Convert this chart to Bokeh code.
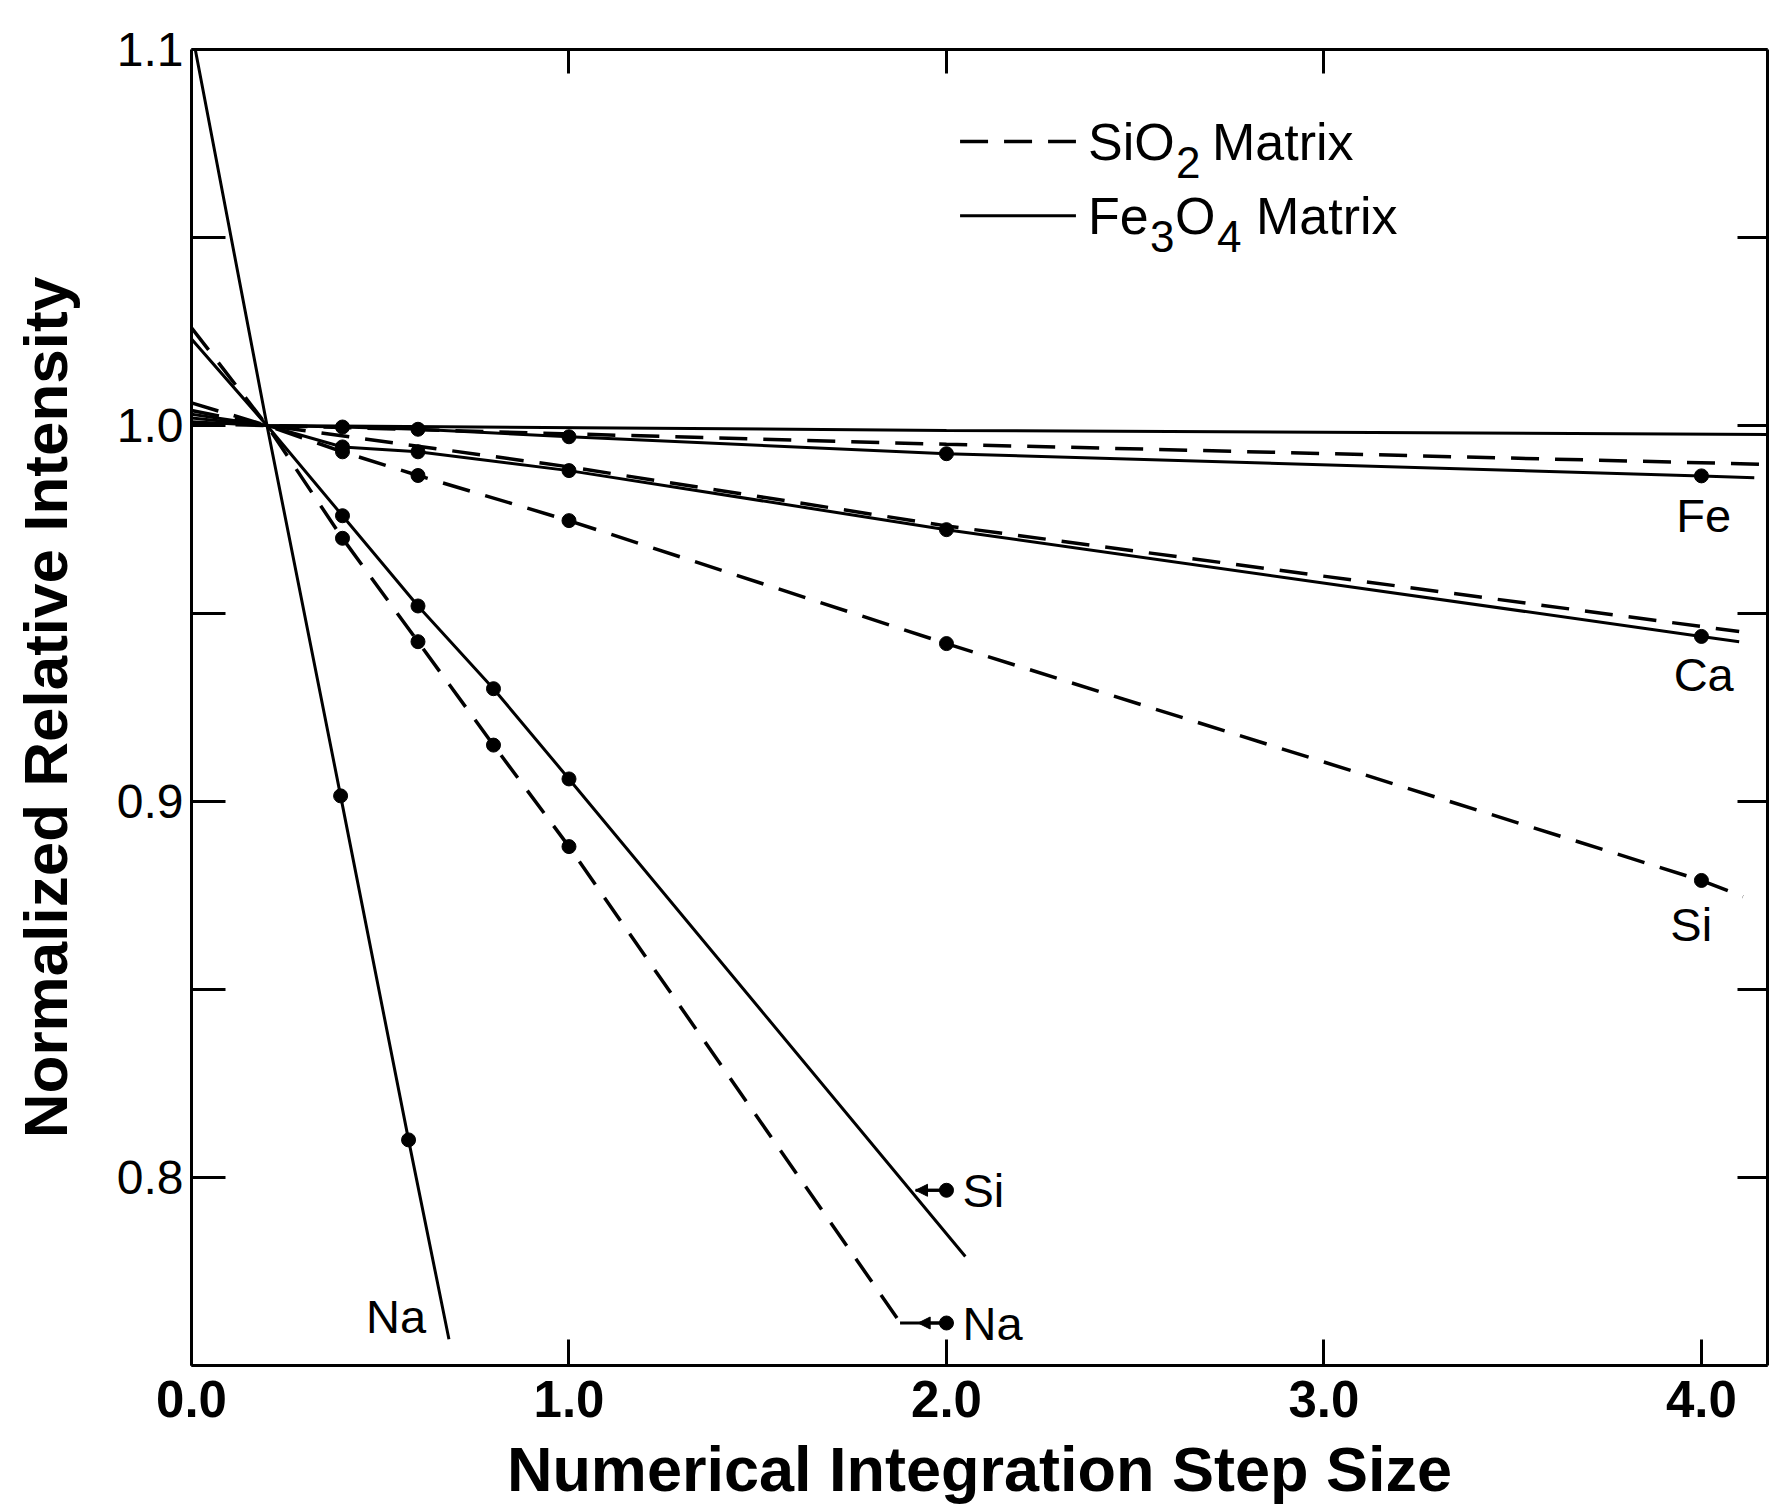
from bokeh.plotting import figure
from bokeh.models import (Range1d, LinearAxis, FixedTicker, PrintfTickFormatter,
                          CustomJSTickFormatter, Label, Arrow, NormalHead)
from bokeh.embed import file_html
from bokeh.resources import INLINE

# ---------------- data ----------------
# Fe3O4 matrix (solid lines)
fe3o4_na_x = [0.01, 0.2, 0.395, 0.575, 0.682]
fe3o4_na_y = [1.100, 1.000, 0.9015, 0.810, 0.757]
fe3o4_na_mark = [0, 0, 1, 1, 0]

fe3o4_si_x = [0.0, 0.2, 0.4, 0.6, 0.8, 1.0, 2.05]
fe3o4_si_y = [1.023, 1.000, 0.976, 0.952, 0.930, 0.906, 0.779]
fe3o4_si_mark = [0, 0, 1, 1, 1, 1, 0]

fe3o4_ca_x = [0.0, 0.2, 0.4, 0.6, 1.0, 2.0, 4.0, 4.10]
fe3o4_ca_y = [1.003, 1.000, 0.9943, 0.993, 0.988, 0.9723, 0.9439, 0.9425]
fe3o4_ca_mark = [0, 0, 1, 1, 1, 1, 1, 0]

fe3o4_fe_x = [0.0, 0.2, 0.4, 0.6, 1.0, 2.0, 4.0, 4.14]
fe3o4_fe_y = [1.002, 1.000, 0.9996, 0.999, 0.997, 0.9925, 0.9866, 0.9861]
fe3o4_fe_mark = [0, 0, 1, 1, 1, 1, 1, 0]

fe3o4_flat_x = [0.0, 0.2, 2.0, 4.175]
fe3o4_flat_y = [1.001, 1.000, 0.9987, 0.9976]

# SiO2 matrix (dashed lines)
sio2_na_x = [0.0, 0.2, 0.4, 0.6, 0.8, 1.0, 1.877]
sio2_na_y = [1.026, 1.000, 0.970, 0.9425, 0.915, 0.888, 0.7615]
sio2_na_mark = [0, 0, 1, 1, 1, 1, 0]

sio2_si_x = [0.0, 0.2, 0.4, 0.6, 1.0, 2.0, 4.0, 4.11]
sio2_si_y = [1.006, 1.000, 0.993, 0.9867, 0.9747, 0.942, 0.879, 0.8747]
sio2_si_mark = [0, 0, 1, 1, 1, 1, 1, 0]

sio2_ca_x = [0.0, 0.2, 1.0, 2.0, 4.10]
sio2_ca_y = [1.004, 1.000, 0.989, 0.9733, 0.9452]

sio2_fe_x = [0.0, 0.2, 2.0, 4.16]
sio2_fe_y = [1.0005, 1.000, 0.995, 0.9897]

# pointer notes at step size 2.0
note_x = [2.0, 2.0]
note_y = [0.7966, 0.7613]
note_tip_x = [1.918, 1.925]
note_line_x = [1.918, 1.877]
note_text = ["Si", "Na"]

# element labels
elem_text = ["Fe", "Ca", "Si", "Na"]
elem_x = [4.006, 4.006, 3.973, 0.542]
elem_y = [0.9760, 0.9338, 0.8672, 0.7630]

# axes
x_ticks = [0.0, 1.0, 2.0, 3.0, 4.0]
top_ticks = [1.0, 2.0, 3.0]
y_major = [0.8, 0.9, 1.0, 1.1]
y_minor = [0.75, 0.85, 0.95, 1.05]
x_title = "Numerical Integration Step Size"
y_title = "Normalized Relative Intensity"

FONT = "Liberation Sans"
DASH = "28 16"

p = figure(width=1770, height=1506,
           x_range=Range1d(0.0, 4.175), y_range=Range1d(0.75, 1.1),
           output_backend="svg", toolbar_location=None,
           min_border_left=191, min_border_right=3,
           min_border_top=49, min_border_bottom=140)
p.grid.visible = False
p.outline_line_color = None
p.background_fill_color = "white"
p.border_fill_color = "white"


def style_axis(ax, tick_len):
    ax.axis_line_width = 3
    ax.axis_line_color = "black"
    ax.major_tick_in = tick_len
    ax.major_tick_out = 0
    ax.minor_tick_in = tick_len
    ax.minor_tick_out = 0
    ax.major_tick_line_width = 3
    ax.minor_tick_line_width = 3
    ax.major_tick_line_color = "black"
    ax.minor_tick_line_color = "black"


xa = p.xaxis[0]
xa.ticker = FixedTicker(ticks=x_ticks)
xa.formatter = PrintfTickFormatter(format="%.1f")
style_axis(xa, 26)
xa.minor_tick_line_color = None
xa.major_label_text_font = FONT
xa.major_label_text_font_size = "51px"
xa.major_label_text_font_style = "bold"
xa.major_label_text_color = "black"
xa.major_label_standoff = 15
xa.axis_label = x_title
xa.axis_label_text_font = FONT
xa.axis_label_text_font_size = "63px"
xa.axis_label_text_font_style = "bold"
xa.axis_label_text_color = "black"
xa.axis_label_standoff = 14

ya = p.yaxis[0]
ya.ticker = FixedTicker(ticks=y_major, minor_ticks=y_minor)
ya.formatter = PrintfTickFormatter(format="%.1f")
style_axis(ya, 34)
ya.major_label_text_font = FONT
ya.major_label_text_font_size = "48px"
ya.major_label_text_color = "black"
ya.major_label_standoff = 8
ya.axis_label = y_title
ya.axis_label_text_font = FONT
ya.axis_label_text_font_size = "62px"
ya.axis_label_text_font_style = "bold"
ya.axis_label_text_color = "black"
ya.axis_label_standoff = 34

blank = CustomJSTickFormatter(code="return '';")

top = LinearAxis(ticker=FixedTicker(ticks=top_ticks), formatter=blank)
style_axis(top, 24)
top.minor_tick_line_color = None
top.major_label_standoff = 0
p.add_layout(top, "above")

right = LinearAxis(ticker=FixedTicker(ticks=y_major, minor_ticks=y_minor), formatter=blank)
style_axis(right, 30)
right.major_label_standoff = 0
p.add_layout(right, "right")


def draw(xs, ys, marks=None, dashed=False):
    if dashed:
        p.line(xs, ys, line_color="black", line_width=3.5, line_dash=DASH)
    else:
        p.line(xs, ys, line_color="black", line_width=3)
    if marks:
        mx = [x for x, m in zip(xs, marks) if m]
        my = [y for y, m in zip(ys, marks) if m]
        p.scatter(mx, my, size=14, color="black")


draw(fe3o4_flat_x, fe3o4_flat_y)
draw(fe3o4_fe_x, fe3o4_fe_y, fe3o4_fe_mark)
draw(fe3o4_ca_x, fe3o4_ca_y, fe3o4_ca_mark)
draw(fe3o4_si_x, fe3o4_si_y, fe3o4_si_mark)
draw(fe3o4_na_x, fe3o4_na_y, fe3o4_na_mark)
draw(sio2_fe_x, sio2_fe_y, dashed=True)
draw(sio2_ca_x, sio2_ca_y, dashed=True)
draw(sio2_si_x, sio2_si_y, sio2_si_mark, dashed=True)
draw(sio2_na_x, sio2_na_y, sio2_na_mark, dashed=True)

# pointer notes
for x0, y0, xt, xl, t in zip(note_x, note_y, note_tip_x, note_line_x, note_text):
    p.line([xl, x0], [y0, y0], line_color="black", line_width=3)
    p.add_layout(Arrow(end=NormalHead(size=12, line_color="black", fill_color="black", line_width=1),
                       x_start=x0, y_start=y0, x_end=xt, y_end=y0,
                       line_color="black", line_width=3))
    p.scatter([x0], [y0], size=14, color="black")
    p.add_layout(Label(x=x0, y=y0, text=t, x_offset=16, text_font=FONT,
                       text_font_size="47px", text_baseline="middle", text_align="left",
                       text_color="black"))

for t, x, y in zip(elem_text, elem_x, elem_y):
    p.add_layout(Label(x=x, y=y, text=t, text_font=FONT, text_font_size="47px",
                       text_baseline="middle", text_align="center", text_color="black"))

# legend (drawn by hand to reproduce the subscripts)
LEG_X0, LEG_X1, LEG_TX = 2.036, 2.343, 2.375
LEG_Y = [1.0755, 1.0558]
SUB_DY = -0.0055
p.line([LEG_X0, LEG_X1], [LEG_Y[0]] * 2, line_color="black", line_width=3.5, line_dash=DASH)
p.line([LEG_X0, LEG_X1], [LEG_Y[1]] * 2, line_color="black", line_width=3)

leg_parts = [
    (0, "SiO", 0, "52px"), (0, "2", 88, "44px"), (0, "Matrix", 124, "52px"),
    (1, "Fe", 0, "52px"), (1, "3", 62, "44px"), (1, "O", 87, "52px"),
    (1, "4", 129, "44px"), (1, "Matrix", 168, "52px"),
]
for row, t, off, fs in leg_parts:
    sub = fs == "44px"
    p.add_layout(Label(x=LEG_TX, y=LEG_Y[row] + (SUB_DY if sub else 0.0), text=t,
                       x_offset=off, text_font=FONT, text_font_size=fs,
                       text_baseline="middle", text_align="left", text_color="black"))

open("out.html", "w").write(file_html(p, INLINE))
